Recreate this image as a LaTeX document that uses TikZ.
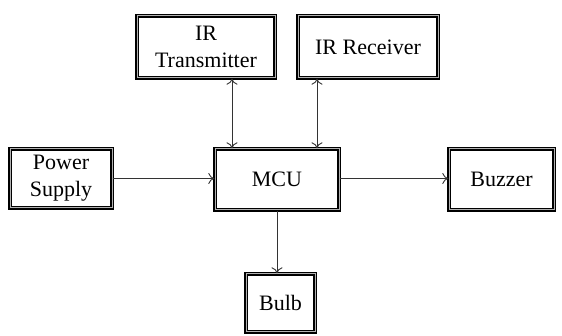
\documentclass[tikz,border=0pt]{standalone}
\usepackage{fontspec}
\setmainfont{Liberation Serif}
\usetikzlibrary{positioning,arrows.meta,calc}
\tikzset{
    block/.style = {
        draw=black,
        shape=rectangle,
        line width=1.4pt,
        double=gray!60,
        double distance=1pt,
        inner sep=2pt,
        align=center,
        font=\fontsize{22}{27}\selectfont
    },
    link/.style = {
        draw=black!80,
        line width=0.9pt
    },
    >={To[length=6pt,width=11pt]},
}
\begin{document}
\begin{tikzpicture}[x=1pt,y=1pt]

            \useasboundingbox (0,0) rectangle (562,336);

            \node[block, minimum width=138pt, minimum height=62pt] (trans) at (206,289) {IR\\Transmitter};
            \node[block, minimum width=140pt, minimum height=62pt] (recv) at (368,289) {IR Receiver};
            \node[block, minimum width=102pt, minimum height=59pt] (power) at (61,157.5) {Power\\Supply};
            \node[block, minimum width=124pt, minimum height=61pt] (mcu) at (277,156.5) {MCU};
            \node[block, minimum width=105pt, minimum height=61pt] (buzzer) at (501.5,156.5) {Buzzer};
            \node[block, minimum width=69pt, minimum height=58pt] (bulb) at (280.5,33) {Bulb};

            \path[link, <->] ([xshift=26pt]trans.south) -- ([xshift=26pt]trans.south |- mcu.north);
            \path[link, <->] ([xshift=-51pt]recv.south) -- ([xshift=-51pt]recv.south |- mcu.north);

            \path[link, ->] (power.east) -- (mcu.west |- power.east);
            \path[link, ->] (mcu.east |- power.east) -- (buzzer.west |- power.east);
            \path[link, ->] (mcu.south) -- (mcu.south |- bulb.north);

        \end{tikzpicture}
\end{document}
